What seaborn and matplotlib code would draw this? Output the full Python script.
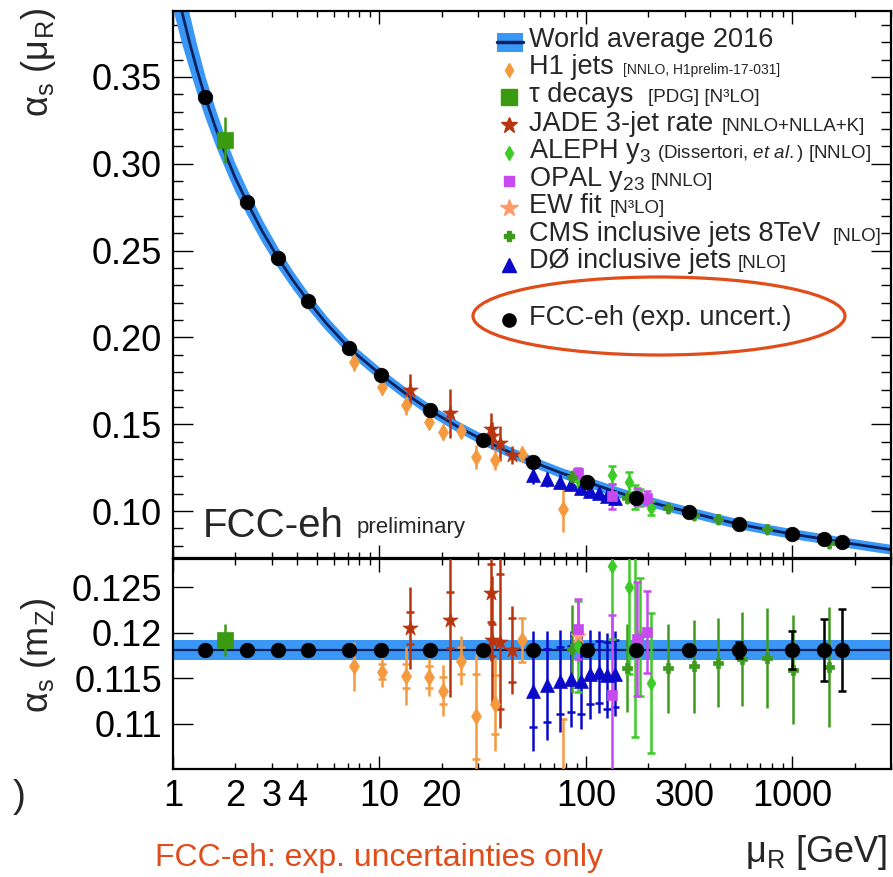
import numpy as np
import matplotlib
matplotlib.use("Agg")
import matplotlib.pyplot as plt
import seaborn as sns
from matplotlib.patches import Ellipse, Rectangle
from matplotlib.lines import Line2D
from matplotlib.ticker import FixedLocator, LogLocator, FuncFormatter, MultipleLocator

# ---------------- world average 2016: running coupling and its band ----------------
wa_mu = [1.0, 1.1, 1.2, 1.3, 1.43, 1.6, 1.8, 2.0, 2.28, 2.7, 3.23, 3.8, 4.51, 5.5, 7.13,
         10.2, 13.5, 17.6, 24.0, 31.8, 42.0, 55.6, 75.0, 101.6, 135.0, 175.0, 240.0,
         317.0, 420.0, 548.0, 750.0, 1000.0, 1415.0, 1730.0, 3000.0]
wa_alpha = [0.4107, 0.3885, 0.3704, 0.3551, 0.3385, 0.3214, 0.3052, 0.2920, 0.2780, 0.2613,
            0.2457, 0.2331, 0.2210, 0.2084, 0.1939, 0.1783, 0.1673, 0.1580, 0.1485, 0.1409,
            0.1343, 0.1282, 0.1222, 0.1167, 0.1117, 0.1075, 0.1030, 0.0994, 0.0957, 0.0925,
            0.0894, 0.0868, 0.0839, 0.0821, 0.0778]
wa_halfwidth = [0.0220, 0.0190, 0.0160, 0.0140, 0.0120, 0.0105, 0.0090, 0.0082, 0.0075, 0.0066,
                0.0058, 0.0052, 0.0047, 0.0041, 0.0036, 0.0030, 0.0026, 0.0023, 0.0020, 0.0018,
                0.0016, 0.0014, 0.0012, 0.0011, 0.0010, 0.0009, 0.0009, 0.0008, 0.0008, 0.0007,
                0.0007, 0.0006, 0.0006, 0.0006, 0.0005]
wa_mz = 0.1181
wa_mz_err = 0.0011

# ---------------- FCC-eh projection (exp. uncertainties) ----------------
fcc_mu = [1.43, 2.28, 3.23, 4.51, 7.13, 10.2, 17.6, 31.8, 55.6, 101.6, 175, 317, 548, 1000, 1415, 1730]
fcc_alpha = [0.3385, 0.2780, 0.2457, 0.2210, 0.1939, 0.1783, 0.1580, 0.1409, 0.1282, 0.1167,
             0.1075, 0.0994, 0.0925, 0.0868, 0.0839, 0.0821]
fcc_alpha_err = [0.0030, 0.0020, 0.0015, 0.0012, 0.0009, 0.0007, 0.0005, 0.0004, 0.0003, 0.0003,
                 0.0003, 0.0003, 0.0005, 0.0011, 0.0017, 0.0022]
fcc_mz = [0.1181, 0.1181, 0.1181, 0.1181, 0.1181, 0.1181, 0.1181, 0.1181, 0.1181, 0.1181,
          0.1181, 0.1181, 0.1181, 0.1181, 0.1181, 0.1181]
fcc_mz_err = [0.0003, 0.0003, 0.0003, 0.0003, 0.0003, 0.0003, 0.0003, 0.0003, 0.0003, 0.0003,
              0.0003, 0.0004, 0.0009, 0.0021, 0.0034, 0.0045]

# ---------------- H1 jets ----------------
h1_mu = [7.56, 10.27, 13.47, 17.4, 20.3, 24.8, 29.4, 36.1, 49.0, 77.7]
h1_alpha = [0.1857, 0.1713, 0.1611, 0.1514, 0.1457, 0.1461, 0.1313, 0.1294, 0.1327, 0.1010]
h1_alpha_err = [0.0050, 0.0045, 0.0055, 0.0040, 0.0045, 0.0040, 0.0070, 0.0060, 0.0040, 0.0130]
h1_mz = [0.1163, 0.1157, 0.1152, 0.1151, 0.1136, 0.1169, 0.1108, 0.1121, 0.1192, 0.1005]
h1_mz_err = [0.0027, 0.0017, 0.0032, 0.0021, 0.0028, 0.0027, 0.0068, 0.0051, 0.0024, 0.0100]
h1_mz_inner = [0.0, 0.0008, 0.0013, 0.0012, 0.0015, 0.0015, 0.0047, 0.0032, 0.0024, 0.0100]

# ---------------- tau decays ----------------
tau_mu = [1.777]
tau_alpha = [0.3137]
tau_alpha_err = [0.0132]
tau_mz = [0.1192]
tau_mz_err = [0.0018]

# ---------------- JADE 3-jet rate ----------------
jade_mu = [14.0, 22.0, 34.6, 35.0, 38.3, 43.8]
jade_alpha = [0.1697, 0.1563, 0.1475, 0.1435, 0.1390, 0.1323]
jade_alpha_err = [0.0090, 0.0140, 0.0090, 0.0080, 0.0100, 0.0050]
jade_mz = [0.1205, 0.1214, 0.1244, 0.1192, 0.1190, 0.1181]
jade_mz_err = [0.0045, 0.0085, 0.0075, 0.0070, 0.0095, 0.0048]
jade_mz_inner = [0.0018, 0.0031, 0.0032, 0.0018, 0.0074, 0.0035]

# ---------------- ALEPH y3 ----------------
aleph_mu = [91.2, 133.0, 161.0, 172.0, 183.0, 206.0]
aleph_alpha = [0.1185, 0.1207, 0.1165, 0.1080, 0.1080, 0.1016]
aleph_alpha_err = [0.0040, 0.0050, 0.0060, 0.0070, 0.0050, 0.0040]
aleph_mz = [0.1185, 0.1273, 0.1250, 0.1185, 0.1195, 0.1145]
aleph_mz_err = [0.0050, 0.0080, 0.0095, 0.0100, 0.0065, 0.0077]

# ---------------- OPAL y23 ----------------
opal_mu = [91.2, 133.0, 177.0, 197.0]
opal_alpha = [0.1217, 0.1085, 0.1085, 0.1073]
opal_alpha_err = [0.0030, 0.0070, 0.0050, 0.0040]
opal_mz = [0.1204, 0.1131, 0.1193, 0.1201]
opal_mz_err = [0.0033, 0.0088, 0.0063, 0.0045]

# ---------------- EW fit ----------------
ew_mu = [91.19]
ew_alpha = [0.1196]
ew_alpha_err = [0.0030]
ew_mz = [0.1196]
ew_mz_err = [0.0030]

# ---------------- CMS inclusive jets 8 TeV ----------------
cms_mu = [86.0, 158.0, 249.0, 335.0, 435.0, 567.0, 755.0, 1009.0, 1500.0]
cms_alpha = [0.1195, 0.1078, 0.1016, 0.0977, 0.0952, 0.0918, 0.0895, 0.0860, 0.0814]
cms_alpha_err = [0.0040, 0.0035, 0.0035, 0.0033, 0.0032, 0.0030, 0.0030, 0.0030, 0.0030]
cms_mz = [0.1182, 0.1161, 0.1161, 0.1163, 0.1167, 0.1171, 0.1172, 0.1159, 0.1162]
cms_mz_err = [0.0048, 0.0048, 0.0049, 0.0051, 0.0049, 0.0052, 0.0055, 0.0060, 0.0066]

# ---------------- D0 inclusive jets ----------------
d0_mu = [55.2, 64.8, 75.2, 85.0, 95.0, 105.0, 115.0, 126.0, 138.0]
d0_alpha = [0.1207, 0.1183, 0.1169, 0.1156, 0.1131, 0.1117, 0.1102, 0.1086, 0.1073]
d0_alpha_err = [0.0050, 0.0045, 0.0042, 0.0040, 0.0040, 0.0037, 0.0035, 0.0035, 0.0035]
d0_mz = [0.1136, 0.1142, 0.1147, 0.1149, 0.1147, 0.1154, 0.1157, 0.1153, 0.1155]
d0_mz_err = [0.0066, 0.0060, 0.0056, 0.0053, 0.0053, 0.0049, 0.0045, 0.0047, 0.0047]
d0_mz_inner = [0.0040, 0.0040, 0.0037, 0.0036, 0.0037, 0.0033, 0.0034, 0.0037, 0.0037]

# axis labels / ticks
xtick_labels = [1, 2, 3, 4, 10, 20, 100, 300, 1000]
top_yticks = [0.10, 0.15, 0.20, 0.25, 0.30, 0.35]
bot_yticks = [0.11, 0.115, 0.12, 0.125]
bot_ytick_labels = ["0.11", "0.115", "0.12", "0.125"]

# ---------------- style ----------------
sns.set_theme(style="ticks")
plt.rcParams["font.family"] = ["Liberation Sans", "DejaVu Sans"]
plt.rcParams.update({
    "mathtext.fontset": "custom",
    "mathtext.rm": "Liberation Sans",
    "mathtext.it": "Liberation Sans:italic",
    "mathtext.bf": "Liberation Sans:bold",
    "mathtext.sf": "Liberation Sans",
    "axes.linewidth": 1.6,
    "axes.edgecolor": "black",
    "xtick.color": "black",
    "ytick.color": "black",
})

BAND = "#3a97f5"
NAVY = "#0b2360"
H1_C = "#f59a3f"
TAU_C = "#3a9a10"
JADE_C = "#b8350f"
ALEPH_C = "#3ccc25"
OPAL_C = "#c74af0"
EW_C = "#ff9a6a"
CMS_C = "#3e9a1e"
D0_C = "#0a0ac8"
RED = "#e04c1a"

W, H = 893, 877
fig = plt.figure(figsize=(W / 100, H / 100), dpi=100)
fig.patch.set_facecolor("white")


def rect(x0, y0, x1, y1):
    return [x0 / W, 1 - y1 / H, (x1 - x0) / W, (y1 - y0) / H]


ax_top = fig.add_axes(rect(173, 11, 891, 558))
ax_bot = fig.add_axes(rect(173, 559, 891, 769))


def draw_points(ax, mu, val, err, color, marker, ms, inner=None, capsize=0.0, lw=1.8, z=4):
    ax.errorbar(mu, val, yerr=err, fmt="none", ecolor=color, elinewidth=lw,
                capsize=capsize, capthick=lw, zorder=z)
    if inner is not None:
        for m, v, e in zip(mu, val, inner):
            if e > 0:
                ax.plot([m, m], [v - e, v + e], ls="none", marker="_", ms=6,
                        mew=lw, color=color, zorder=z)
    sns.scatterplot(x=mu, y=val, ax=ax, marker=marker, s=ms ** 2, color=color,
                    edgecolor=color, linewidth=0.5, legend=False, zorder=z + 0.5)


# ---------------- top panel: alpha_s(mu_R) ----------------
lo = [a - h for a, h in zip(wa_alpha, wa_halfwidth)]
hi = [a + h for a, h in zip(wa_alpha, wa_halfwidth)]
ax_top.fill_between(wa_mu, lo, hi, color=BAND, lw=0, zorder=1)
sns.lineplot(x=wa_mu, y=wa_alpha, ax=ax_top, color=BAND, lw=7, sort=False,
             estimator=None, zorder=1.5)
sns.lineplot(x=wa_mu, y=wa_alpha, ax=ax_top, color=NAVY, lw=2, sort=False,
             estimator=None, zorder=2)

draw_points(ax_top, h1_mu, h1_alpha, h1_alpha_err, H1_C, "d", 8.5)
draw_points(ax_top, jade_mu, jade_alpha, jade_alpha_err, JADE_C, "*", 11.5)
draw_points(ax_top, d0_mu, d0_alpha, d0_alpha_err, D0_C, "^", 10)
draw_points(ax_top, ew_mu, ew_alpha, ew_alpha_err, EW_C, "*", 11.5)
draw_points(ax_top, aleph_mu, aleph_alpha, aleph_alpha_err, ALEPH_C, "d", 7.5, capsize=3)
draw_points(ax_top, opal_mu, opal_alpha, opal_alpha_err, OPAL_C, "s", 7.5, capsize=3)
draw_points(ax_top, cms_mu, cms_alpha, cms_alpha_err, CMS_C, "P", 6.5)
draw_points(ax_top, tau_mu, tau_alpha, tau_alpha_err, TAU_C, "s", 11)
draw_points(ax_top, fcc_mu, fcc_alpha, fcc_alpha_err, "black", "o", 10.5, z=6)

# ---------------- bottom panel: alpha_s(m_Z) ----------------
ax_bot.axhspan(wa_mz - wa_mz_err, wa_mz + wa_mz_err, color=BAND, lw=0, zorder=1)
ax_bot.axhline(wa_mz, color=NAVY, lw=1.6, zorder=2)

draw_points(ax_bot, h1_mu, h1_mz, h1_mz_err, H1_C, "d", 8.5, inner=h1_mz_inner)
draw_points(ax_bot, jade_mu, jade_mz, jade_mz_err, JADE_C, "*", 11.5, inner=jade_mz_inner)
draw_points(ax_bot, d0_mu, d0_mz, d0_mz_err, D0_C, "^", 10, inner=d0_mz_inner)
draw_points(ax_bot, ew_mu, ew_mz, ew_mz_err, EW_C, "*", 11.5)
draw_points(ax_bot, cms_mu, cms_mz, cms_mz_err, CMS_C, "P", 6.5)
draw_points(ax_bot, aleph_mu, aleph_mz, aleph_mz_err, ALEPH_C, "d", 7.5, capsize=3)
draw_points(ax_bot, opal_mu, opal_mz, opal_mz_err, OPAL_C, "s", 7.5, capsize=3)
draw_points(ax_bot, tau_mu, tau_mz, tau_mz_err, TAU_C, "s", 11)
draw_points(ax_bot, fcc_mu, fcc_mz, fcc_mz_err, "black", "o", 10.5, capsize=3, z=6)

# ---------------- axes ----------------
for ax in (ax_top, ax_bot):
    ax.set_xscale("log")
    ax.set_xlim(1, 3000)
    ax.set_facecolor("white")
    ax.xaxis.set_major_locator(FixedLocator([1, 10, 100, 1000]))
    ax.xaxis.set_minor_locator(LogLocator(base=10, subs=np.arange(2, 10), numticks=30))
    ax.tick_params(axis="x", which="major", length=9.5, width=1.0, direction="in",
                   top=True, bottom=True)
    ax.tick_params(axis="x", which="minor", length=4.5, width=1.0, direction="in",
                   top=True, bottom=True)
    ax.tick_params(axis="y", which="major", length=14.5, width=1.0, direction="in",
                   left=True, right=True, labelsize=26, pad=8)
    ax.tick_params(axis="y", which="minor", length=7.5, width=1.0, direction="in",
                   left=True, right=True)
    ax.set_xlabel("")
    ax.set_ylabel("")
    for s in ax.spines.values():
        s.set_linewidth(1.6)
        s.set_color("black")

ax_top.set_ylim(0.073, 0.388)
ax_top.yaxis.set_major_locator(FixedLocator(top_yticks))
ax_top.yaxis.set_minor_locator(MultipleLocator(0.01))
ax_top.yaxis.set_major_formatter(FuncFormatter(lambda v, p: f"{v:.2f}"))
ax_top.tick_params(axis="x", which="both", labelbottom=False)

ax_bot.set_ylim(0.105, 0.1281)
ax_bot.yaxis.set_major_locator(FixedLocator(bot_yticks))
ax_bot.set_yticklabels(bot_ytick_labels)
ax_bot.yaxis.set_minor_locator(FixedLocator([]))


def xfmt(v, pos):
    for t in xtick_labels:
        if abs(v - t) < 1e-6 * t:
            return f"{t:g}"
    return ""


ax_bot.xaxis.set_major_formatter(FuncFormatter(xfmt))
ax_bot.xaxis.set_minor_formatter(FuncFormatter(xfmt))
ax_bot.tick_params(axis="x", which="both", labelsize=26, pad=7)

# ---------------- annotation ----------------
def fx(px):
    return px / W


def fy(py):
    return 1 - py / H


fig.text(fx(39), fy(62), r"$\mathrm{\alpha_s\ (\mu_R)}$", rotation=90, ha="center",
         va="center", fontsize=26)
fig.text(fx(39), fy(655), r"$\mathrm{\alpha_s\ (m_Z)}$", rotation=90, ha="center",
         va="center", fontsize=26)
fig.text(fx(745), fy(862), r"$\mathrm{\mu_R}$ [GeV]", fontsize=26, va="baseline", ha="left")
fig.text(fx(155), fy(866), "FCC-eh: exp. uncertainties only", fontsize=23, color=RED,
         va="baseline", ha="left")
fig.text(fx(19), fy(797), ")", fontsize=28, ha="center", va="center")
fig.text(fx(203), fy(537), "FCC-eh", fontsize=29, va="baseline", ha="left")
fig.text(fx(357), fy(533), "preliminary", fontsize=16, va="baseline", ha="left")

# legend block
MAIN = 19.5
SMALL = 13.5
TX = 529
MX = 509
fig.add_artist(Rectangle((fx(497), fy(52)), 26 / W, 19 / H, transform=fig.transFigure,
                         color=BAND, lw=0))
fig.add_artist(Line2D([fx(497), fx(523)], [fy(42), fy(42)], transform=fig.transFigure,
                      color=NAVY, lw=2.5))
fig.text(fx(TX), fy(47), "World average 2016", fontsize=MAIN, va="baseline")

legend_rows = [
    (70, 74, "H1 jets", "[NNLO, H1prelim-17-031]", 10, 623, H1_C, "d", 7.5),
    (97, 102, "τ decays", "[PDG] [N³LO]", SMALL, 648, TAU_C, "s", 11),
    (125, 131, "JADE 3-jet rate", "[NNLO+NLLA+K]", SMALL, 722, JADE_C, "*", 12),
    (153, 158, r"ALEPH $\mathrm{y_3}$", r"(Dissertori, $\mathit{et\ al.}$) [NNLO]", SMALL, 657,
     ALEPH_C, "d", 7.5),
    (181, 186, r"OPAL $\mathrm{y_{23}}$", "[NNLO]", SMALL, 651, OPAL_C, "s", 7),
    (208, 213, "EW fit", "[N³LO]", SMALL, 610, EW_C, "*", 13),
    (236, 241, "CMS inclusive jets 8TeV", "[NLO]", SMALL, 833, CMS_C, "P", 7),
    (265, 268, "DØ inclusive jets", "[NLO]", SMALL, 738, D0_C, "^", 10),
]
for my, base, main, extra, esize, ex, col, mk, ms in legend_rows:
    fig.add_artist(Line2D([fx(MX)], [fy(my)], transform=fig.transFigure, ls="none",
                          marker=mk, ms=ms, color=col, mec=col))
    fig.text(fx(TX), fy(base), main, fontsize=MAIN, va="baseline")
    fig.text(fx(ex), fy(base), extra, fontsize=esize, va="baseline")

fig.add_artist(Line2D([fx(MX)], [fy(320)], transform=fig.transFigure, ls="none",
                      marker="o", ms=9.5, color="black"))
fig.text(fx(TX), fy(325), "FCC-eh (exp. uncert.)", fontsize=MAIN, va="baseline")
fig.add_artist(Ellipse((fx(659), fy(316)), 372 / W, 78 / H, transform=fig.transFigure,
                       fill=False, ec=RED, lw=2.3))

fig.savefig("out.png", dpi=100, facecolor="white")
